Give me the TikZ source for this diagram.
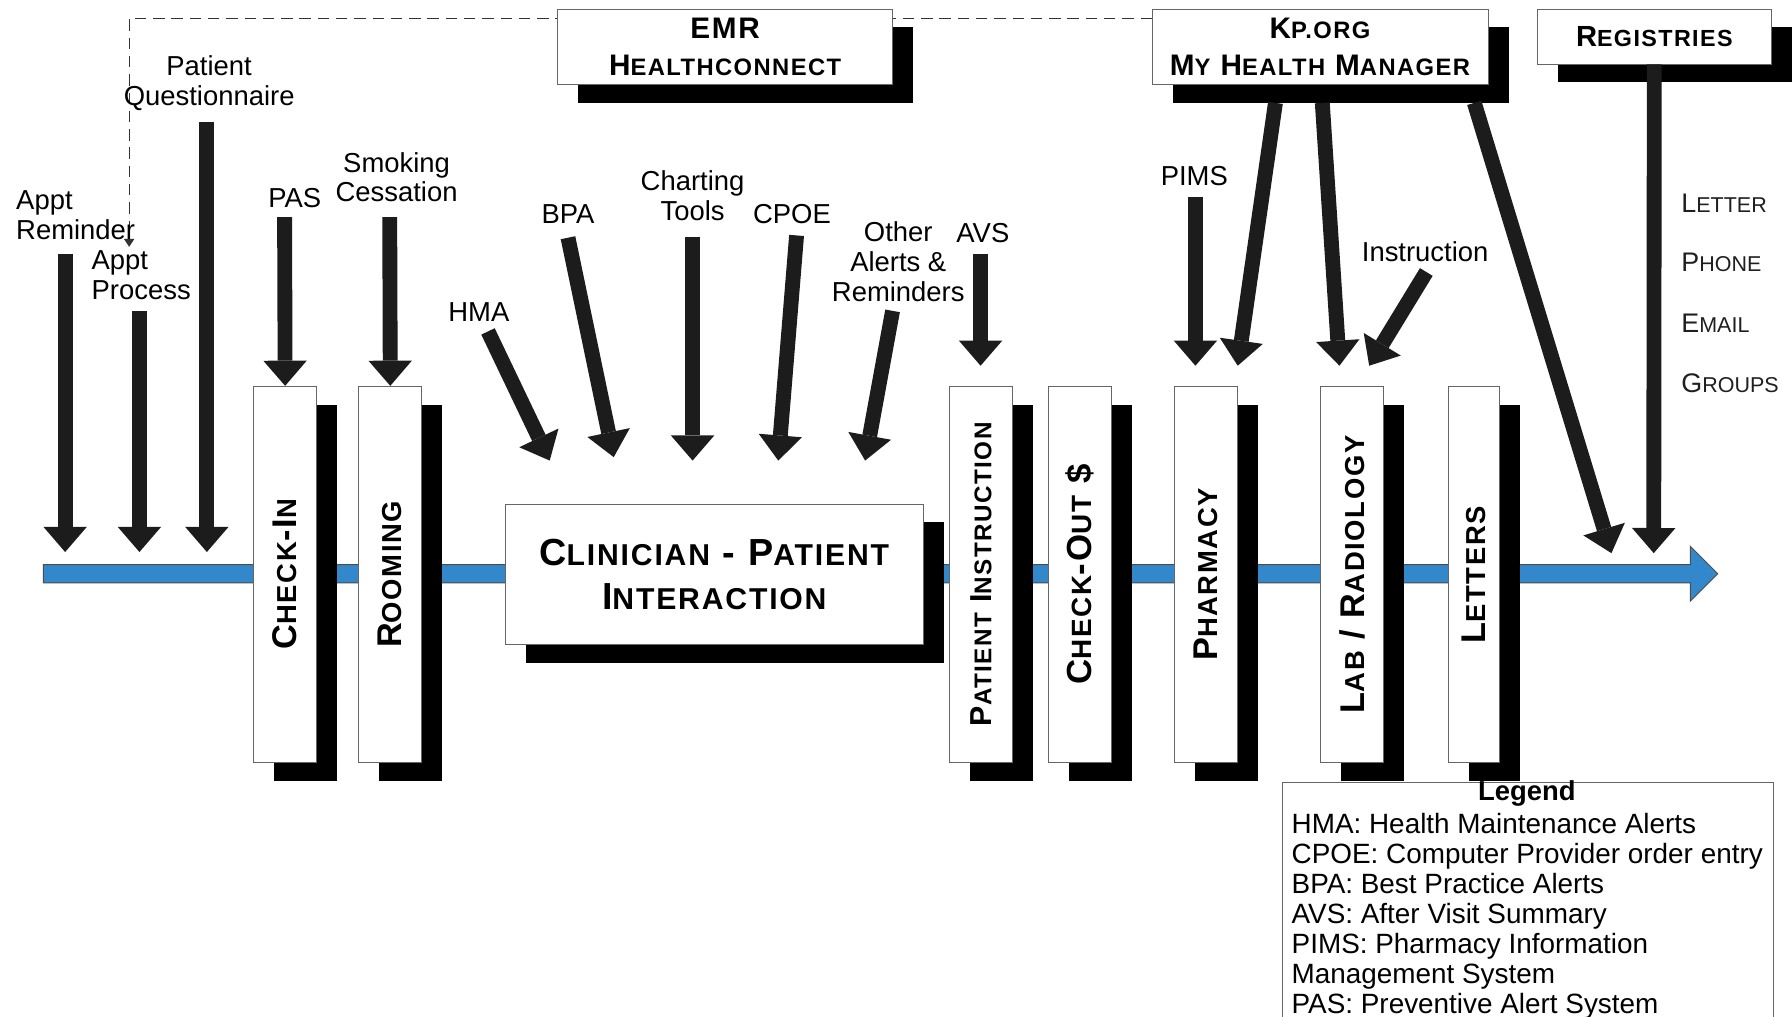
\documentclass[tikz,border=0pt]{standalone}
\usepackage{graphicx}
\usepackage{fontspec}
\setmainfont{Liberation Sans}
\newfontfamily\boxfont[LetterSpace=6]{Liberation Sans Bold}
\newfontfamily\regfont{Liberation Sans}
\usetikzlibrary{arrows.meta,shadows}
\definecolor{barblue}{RGB}{51,136,204}
\definecolor{arrowc}{RGB}{28,28,28}
\newcommand\SC[2]{#1\scalebox{0.8}{#2}}
\tikzset{
  lbl/.style={font=\fontsize{24}{26}\selectfont, inner sep=0pt, align=center},
  fat/.style={draw=arrowc, line width=13pt, -{Triangle[width=38pt,length=22pt,line width=0pt]}},
  boxbase/.style={draw=black!60, line width=0.8pt, fill=white, inner sep=0pt,
    general shadow={fill=black, shadow xshift=18pt, shadow yshift=-16pt}},
  tallbox/.style={boxbase, minimum width=55pt, minimum height=329pt, font=\boxfont\fontsize{30}{32}\selectfont},
  topbox/.style={boxbase, align=center, font=\boxfont\fontsize{26}{32}\selectfont},
  dashline/.style={draw=black!80, line width=1pt, dash pattern=on 10pt off 6pt, -{Triangle[width=9pt,length=7pt]}},
  reglbl/.style={anchor=west, inner sep=0pt, font=\regfont\fontsize{23.5}{26}\selectfont, text=black!88},
}
\begin{document}
\begin{tikzpicture}[x=1pt,y=-1pt]
\useasboundingbox (0,0) rectangle (1568,889);
\clip (0,0) rectangle (1568,889);

% dashed feedback line
\coordinate (dtop) at (113,16);
\coordinate (dtip) at (113,216);
\coordinate (kpleft) at (1008,16);
\draw[dashline] (kpleft) -- (dtop) -- (dtip);

% process bar
\draw[draw=black!70, line width=0.8pt, fill=barblue]
  (38,494) -- (1479,494) -- (1479,478) -- (1503,502) -- (1479,526) -- (1479,510) -- (38,510) -- cycle;

% top boxes
\node[topbox, minimum width=293pt, minimum height=66pt] (emr) at (634.5,41) {EMR\\\SC{H}{EALTHCONNECT}};
\node[topbox, minimum width=294pt, minimum height=66pt] (kp) at (1155,41) {\SC{K}{P.ORG}\\\SC{M}{Y} \SC{H}{EALTH} \SC{M}{ANAGER}};
\node[topbox, minimum width=205pt, minimum height=48pt, font=\boxfont\fontsize{25.5}{32}\selectfont] (reg) at (1447.5,32) {\SC{R}{EGISTRIES}};

% process boxes
\node[tallbox] (checkin) at (249.5,502.5) {\rotatebox{90}{\SC{C}{HECK}-\SC{I}{N}}};
\node[tallbox] (rooming) at (341.5,502.5) {\rotatebox{90}{\SC{R}{OOMING}}};
\node[boxbase, minimum width=366pt, minimum height=123pt, align=center,
      font=\boxfont\fontsize{33}{39}\selectfont] (clin) at (625,502.5)
      {\SC{C}{LINICIAN} - \SC{P}{ATIENT}\\\SC{I}{NTERACTION}};
\node[tallbox, font=\boxfont\fontsize{26.5}{30}\selectfont] (instr) at (858.5,502.5) {\rotatebox{90}{\SC{P}{ATIENT} \SC{I}{NSTRUCTION}}};
\node[tallbox, font=\boxfont\fontsize{30.5}{32}\selectfont] (checkout) at (945,502.5) {\rotatebox{90}{\SC{C}{HECK}-\SC{O}{UT} \$}};
\node[tallbox] (pharm) at (1055,502.5) {\rotatebox{90}{\SC{P}{HARMACY}}};
\node[tallbox] (lab) at (1183,502.5) {\rotatebox{90}{\SC{L}{AB} / \SC{R}{ADIOLOGY}}};
\node[tallbox, minimum width=45pt] (letters) at (1289.5,503) {\rotatebox{90}{\SC{L}{ETTERS}}};

% labels
\node[lbl, align=left, anchor=west] (lrem) at (14,188) {Appt\\Reminder};
\node[lbl, align=left, anchor=west] (lproc) at (80,241) {Appt\\Process};
\node[lbl] (lquest) at (183,73) {Patient\\Questionnaire};
\node[lbl] (lpas) at (258,173) {PAS};
\node[lbl] (lsmoke) at (347,155) {Smoking\\Cessation};
\node[lbl] (lhma) at (419,273) {HMA};
\node[lbl] (lbpa) at (497,187) {BPA};
\node[lbl] (lchart) at (606,171) {Charting\\Tools};
\node[lbl] (lcpoe) at (693,187) {CPOE};
\node[lbl] (lother) at (786,229) {Other\\Alerts \&\\Reminders};
\node[lbl] (lavs) at (860,204) {AVS};
\node[lbl] (lpims) at (1045,154) {PIMS};
\node[lbl] (linstr) at (1247,220) {Instruction};

\node[reglbl] (rletter) at (1471,178) {\SC{L}{ETTER}};
\node[reglbl] (rphone) at (1471,230) {\SC{P}{HONE}};
\node[reglbl] (remail) at (1471,283) {\SC{E}{MAIL}};
\node[reglbl] (rgroups) at (1471,335) {\SC{G}{ROUPS}};

% arrow end points
\coordinate (remS) at (57,222);   \coordinate (remE) at (57,483);
\coordinate (procS) at (122,272); \coordinate (procE) at (122,483);
\coordinate (questS) at (181,107);\coordinate (questE) at (181,483);
\coordinate (pasS) at (249,190);
\coordinate (smokeS) at (341,190);
\coordinate (hmaS) at (427,290);  \coordinate (hmaE) at (481,403);
\coordinate (bpaS) at (497,208);  \coordinate (bpaE) at (537,400);
\coordinate (chartS) at (606,207);\coordinate (chartE) at (606,403);
\coordinate (cpoeS) at (697,206); \coordinate (cpoeE) at (681,403);
\coordinate (otherS) at (781,272);\coordinate (otherE) at (757,403);
\coordinate (avsS) at (858,222);  \coordinate (avsE) at (858,320);
\coordinate (pimsS) at (1046,172);\coordinate (pimsE) at (1046,320);
\coordinate (kpA) at (1116,90);   \coordinate (kpAE) at (1083,320);
\coordinate (kpB) at (1157,90);   \coordinate (kpBE) at (1172,320);
\coordinate (instrS) at (1248,238);\coordinate (instrE) at (1198,320);
\coordinate (kpC) at (1290,90);   \coordinate (kpCE) at (1410,484);
\coordinate (regE) at (1447,484);

% arrows
\draw[fat] (remS) -- (remE);
\draw[fat] (procS) -- (procE);
\draw[fat] (questS) -- (questE);
\draw[fat] (pasS) -- (checkin.north);
\draw[fat] (smokeS) -- (rooming.north);
\draw[fat] (hmaS) -- (hmaE);
\draw[fat] (bpaS) -- (bpaE);
\draw[fat] (chartS) -- (chartE);
\draw[fat] (cpoeS) -- (cpoeE);
\draw[fat] (otherS) -- (otherE);
\draw[fat] (avsS) -- (avsE);
\draw[fat] (pimsS) -- (pimsE);
\draw[fat] (kpA) -- (kpAE);
\draw[fat] (kpB) -- (kpBE);
\draw[fat] (instrS) -- (instrE);
\draw[fat] (kpC) -- (kpCE);
\draw[fat] (reg.south) -- (regE);

% legend
\node[draw=black!60, line width=0.8pt, fill=white, anchor=north west,
      minimum width=429pt, minimum height=230pt, inner sep=0pt] (legend) at (1122,684) {};
\node[inner sep=0pt, font=\bfseries\fontsize{24}{26}\selectfont] (legtitle) at (1336,694) {Legend};
\node[anchor=north west, inner sep=0pt, align=left, font=\fontsize{24.4}{26.3}\selectfont] (legtext) at (1130,711)
  {HMA: Health Maintenance Alerts\\
   CPOE: Computer Provider order entry\\
   BPA: Best Practice Alerts\\
   AVS: After Visit Summary\\
   PIMS: Pharmacy Information\\
   Management System\\
   PAS: Preventive Alert System};
\end{tikzpicture}
\end{document}
